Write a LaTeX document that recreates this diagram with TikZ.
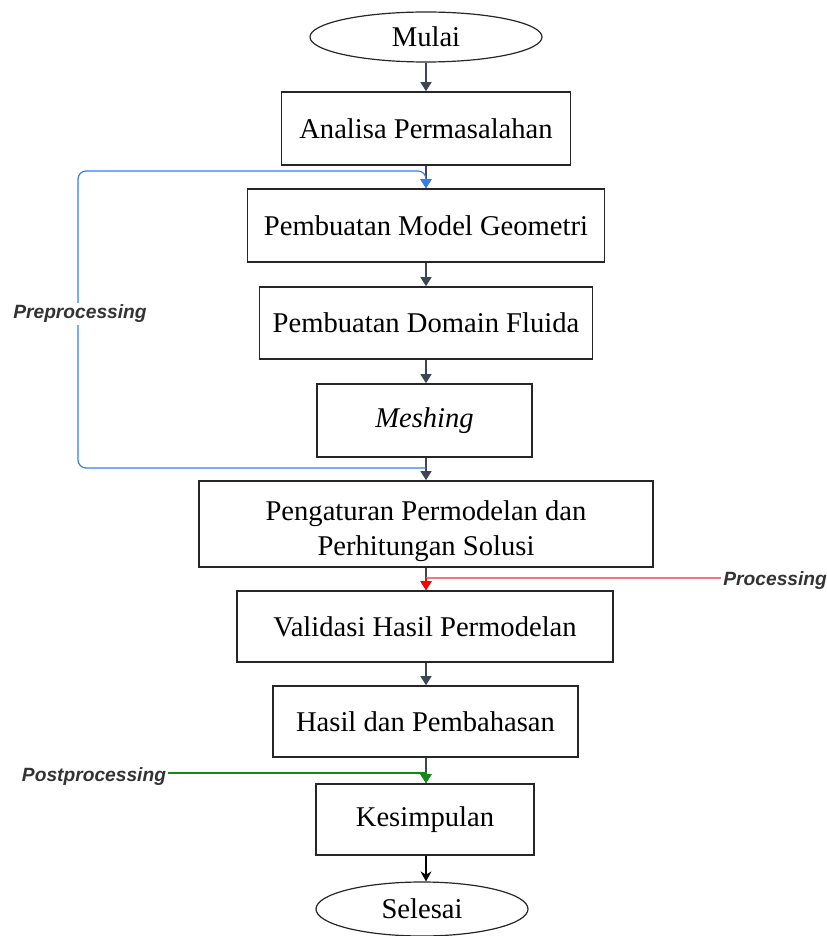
\documentclass[tikz,border=0pt]{standalone}
\usepackage{fontspec}
\setmainfont{Liberation Serif}
\newfontfamily\lblfont{Liberation Sans}
\usetikzlibrary{arrows.meta,shapes.geometric}
\definecolor{flowgray}{HTML}{3F4653}
\definecolor{loopblue}{HTML}{2F80ED}
\definecolor{procred}{HTML}{F07A7A}
\definecolor{postgreen}{HTML}{138A13}
\definecolor{lblgray}{HTML}{333333}
\tikzset{
  pbox/.style={draw=black!85, line width=0.8pt, rectangle, inner sep=0pt, align=center,
    font=\fontsize{14.3}{17.5}\selectfont},
  term/.style={draw=black!85, line width=0.6pt, ellipse, inner sep=0pt,
    font=\fontsize{14.3}{17.5}\selectfont},
  flow/.style={draw=flowgray, line width=0.6pt, -{Triangle[width=5.5pt,length=4.5pt]}},
  phase/.style={font=\lblfont\fontsize{9.6}{11}\selectfont\bfseries\itshape, text=lblgray, inner sep=1pt},
}
\begin{document}
\begin{tikzpicture}[x=0.5pt,y=-0.5pt]
\useasboundingbox (0,0) rectangle (826,936);
\node[term, minimum width=116pt, minimum height=25pt] (mulai) at (426,37) {Mulai};
\node[pbox, minimum width=144.5pt, minimum height=36.5pt] (analisa) at (426,128.5) {\raisebox{-1pt}{Analisa Permasalahan}};
\node[pbox, minimum width=178.5pt, minimum height=36.5pt] (model) at (426,225.5) {Pembuatan Model Geometri};
\node[pbox, minimum width=166.5pt, minimum height=36pt] (domain) at (426,323) {Pembuatan Domain Fluida};
\node[pbox, minimum width=107.5pt, minimum height=36.5pt] (meshing) at (424.5,420.5) {\raisebox{-1.5pt}{\itshape Meshing}};
\node[pbox, minimum width=227pt, minimum height=43pt,
  label={[align=center, font=\fontsize{14.3}{17.5}\selectfont, yshift=-3.5pt]center:Pengaturan Permodelan dan\\Perhitungan Solusi}]
  (pengaturan) at (426,524) {};
\node[pbox, minimum width=188pt, minimum height=35.5pt] (validasi) at (425,626.5) {Validasi Hasil Permodelan};
\node[pbox, minimum width=152.5pt, minimum height=35.5pt] (hasil) at (425.5,721.5) {Hasil dan Pembahasan};
\node[pbox, minimum width=109pt, minimum height=35.5pt] (kesimpulan) at (425,819.5) {Kesimpulan};
\node[term, minimum width=106pt, minimum height=27pt] (selesai) at (422,909) {Selesai};

\node[phase] (pre) at (80,314) {Preprocessing};
\node[phase, anchor=west] (proc) at (721,581) {Processing};
\node[phase] (post) at (94,777) {Postprocessing};

\coordinate (lb) at (426,468);
\coordinate (lt) at (426,171);
\coordinate (rp) at (426,578);
\coordinate (gp) at (426,773);
\coordinate (ax) at (426,0);

\draw[flow] (mulai.south -| ax) -- (analisa.north -| ax);
\draw[flow] (analisa.south -| ax) -- (model.north -| ax);
\draw[flow] (model.south -| ax) -- (domain.north -| ax);
\draw[flow] (domain.south -| ax) -- (meshing.north -| ax);
\draw[flow] (meshing.south -| ax) -- (pengaturan.north -| ax);
\draw[flow] (pengaturan.south -| ax) -- (validasi.north -| ax);
\draw[flow] (validasi.south -| ax) -- (hasil.north -| ax);
\draw[flow] (hasil.south -| ax) -- (kesimpulan.north -| ax);
\draw[black, line width=0.6pt, -{Stealth[width=5.5pt,length=5pt]}] (kesimpulan.south -| ax) -- (selesai.north -| ax);

\draw[loopblue, line width=0.6pt, rounded corners=4pt, -{Triangle[width=5.5pt,length=4.5pt]}]
  (lb) -- (78,468) -- (78,171) -- (lt) -- (model.north -| ax);
\node[phase, fill=white] at (pre) {Preprocessing};

\draw[procred, line width=0.6pt] (proc.west |- rp) -- (rp);
\draw[red, line width=0.6pt, -{Triangle[width=5.5pt,length=4.5pt]}] (rp) -- (validasi.north -| ax);

\draw[postgreen, line width=0.6pt, -{Triangle[width=5.5pt,length=4.5pt]}] (post.east |- gp) -- (gp) -- (kesimpulan.north -| ax);
\end{tikzpicture}
\end{document}
